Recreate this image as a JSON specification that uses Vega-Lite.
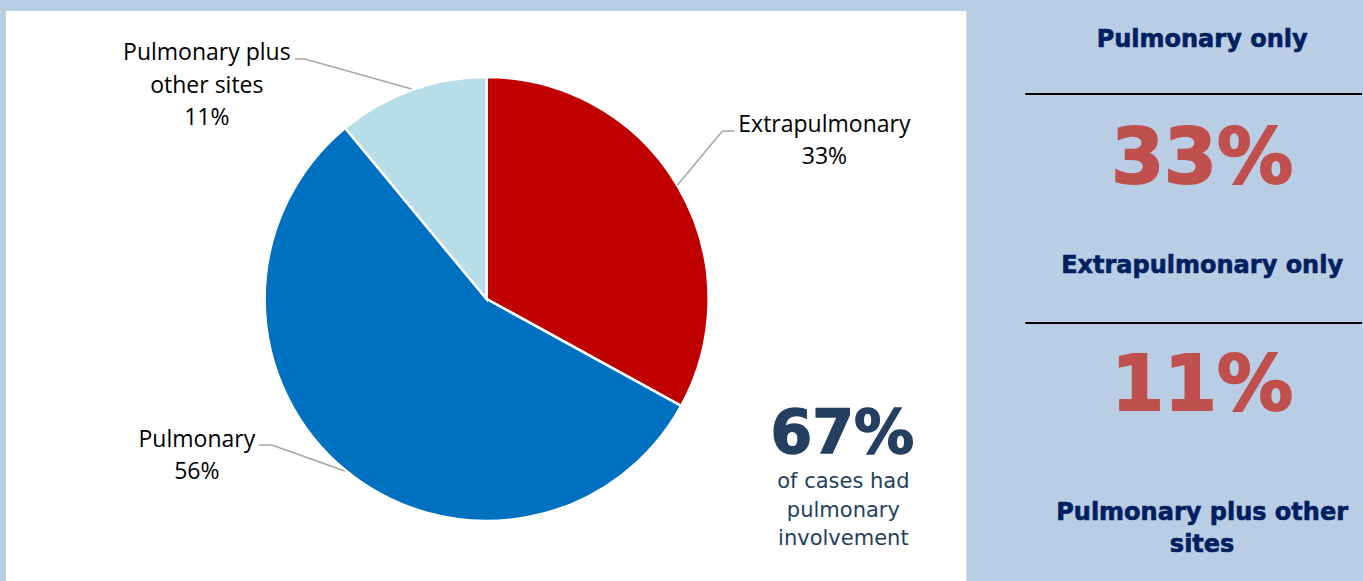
{
  "$schema": "https://vega.github.io/schema/vega-lite/v6.json",
  "width": 1363,
  "height": 581,
  "padding": 0,
  "autosize": {"type": "fit", "contains": "padding"},
  "background": "#b9cde5",
  "config": {"view": {"stroke": null}},
  "layer": [
    {
      "data": {"values": [{}]},
      "mark": {"type": "rect", "color": "#ffffff"},
      "encoding": {
        "x": {"datum": 6, "type": "quantitative", "scale": {"domain": [0, 1363], "nice": false, "zero": false}, "axis": null},
        "x2": {"datum": 967},
        "y": {"datum": 11, "type": "quantitative", "scale": {"domain": [0, 581], "reverse": true, "nice": false, "zero": false}, "axis": null},
        "y2": {"datum": 581}
      }
    },
    {
      "data": {"values": [
        {"site": "Extrapulmonary", "percent": 33},
        {"site": "Pulmonary", "percent": 56},
        {"site": "Pulmonary plus other sites", "percent": 11}
      ]},
      "mark": {"type": "arc", "radius": 222, "stroke": "#ffffff", "strokeWidth": 2.5},
      "encoding": {
        "theta": {"field": "percent", "type": "quantitative", "stack": true},
        "color": {"field": "site", "type": "nominal", "legend": null,
          "scale": {"domain": ["Extrapulmonary", "Pulmonary", "Pulmonary plus other sites"], "range": ["#c00000", "#0070c0", "#b7dde8"]}},
        "order": {"field": "site", "type": "nominal"},
        "x": {"datum": 487, "type": "quantitative", "scale": {"domain": [0, 1363], "nice": false, "zero": false}, "axis": null},
        "y": {"datum": 299, "type": "quantitative", "scale": {"domain": [0, 581], "reverse": true, "nice": false, "zero": false}, "axis": null}
      }
    },
    {
      "data": {"values": [
        {"seg": "a", "x": 678, "y": 185, "x2": 723, "y2": 131},
        {"seg": "b", "x": 723, "y": 131, "x2": 735, "y2": 131},
        {"seg": "c", "x": 295, "y": 59, "x2": 305, "y2": 59},
        {"seg": "d", "x": 305, "y": 59, "x2": 412, "y2": 89},
        {"seg": "e", "x": 259, "y": 445, "x2": 272, "y2": 445},
        {"seg": "f", "x": 272, "y": 445, "x2": 345, "y2": 471}
      ]},
      "mark": {"type": "rule", "color": "#a6a6a6", "strokeWidth": 1.5},
      "encoding": {
        "x": {"field": "x", "type": "quantitative", "scale": {"domain": [0, 1363], "nice": false, "zero": false}, "axis": null},
        "x2": {"field": "x2"},
        "y": {"field": "y", "type": "quantitative", "scale": {"domain": [0, 581], "reverse": true, "nice": false, "zero": false}, "axis": null},
        "y2": {"field": "y2"}
      }
    },
    {
      "data": {"values": [
        {"label": "Extrapulmonary", "lx": 825, "ly": 132},
        {"label": "33%", "lx": 825, "ly": 164},
        {"label": "Pulmonary plus", "lx": 207, "ly": 60},
        {"label": "other sites", "lx": 207, "ly": 93},
        {"label": "11%", "lx": 207, "ly": 125},
        {"label": "Pulmonary", "lx": 197, "ly": 447},
        {"label": "56%", "lx": 197, "ly": 479}
      ]},
      "mark": {"type": "text", "font": "Open Sans", "fontSize": 23, "color": "#000000", "align": "center", "baseline": "alphabetic"},
      "encoding": {
        "text": {"field": "label"},
        "x": {"field": "lx", "type": "quantitative", "scale": {"domain": [0, 1363], "nice": false, "zero": false}, "axis": null},
        "y": {"field": "ly", "type": "quantitative", "scale": {"domain": [0, 581], "reverse": true, "nice": false, "zero": false}, "axis": null}
      }
    },
    {
      "data": {"values": [{"label": "67%", "lx": 843, "ly": 453}]},
      "mark": {"type": "text", "font": "DejaVu Sans", "fontWeight": "bold", "fontSize": 60, "color": "#243f60", "stroke": "#243f60", "strokeWidth": 1.5, "align": "center", "baseline": "alphabetic"},
      "encoding": {
        "text": {"field": "label"},
        "x": {"field": "lx", "type": "quantitative", "scale": {"domain": [0, 1363], "nice": false, "zero": false}, "axis": null},
        "y": {"field": "ly", "type": "quantitative", "scale": {"domain": [0, 581], "reverse": true, "nice": false, "zero": false}, "axis": null}
      }
    },
    {
      "data": {"values": [
        {"label": "of cases had", "lx": 844, "ly": 488},
        {"label": "pulmonary", "lx": 844, "ly": 516.5},
        {"label": "involvement", "lx": 844, "ly": 545}
      ]},
      "mark": {"type": "text", "font": "DejaVu Sans", "fontSize": 21, "color": "#243f60", "align": "center", "baseline": "alphabetic"},
      "encoding": {
        "text": {"field": "label"},
        "x": {"field": "lx", "type": "quantitative", "scale": {"domain": [0, 1363], "nice": false, "zero": false}, "axis": null},
        "y": {"field": "ly", "type": "quantitative", "scale": {"domain": [0, 581], "reverse": true, "nice": false, "zero": false}, "axis": null}
      }
    },
    {
      "data": {"values": [
        {"label": "Pulmonary only", "lx": 1203, "ly": 47},
        {"label": "Extrapulmonary only", "lx": 1203, "ly": 273},
        {"label": "Pulmonary plus other", "lx": 1203, "ly": 520},
        {"label": "sites", "lx": 1203, "ly": 552}
      ]},
      "mark": {"type": "text", "font": "DejaVu Sans", "fontWeight": "bold", "fontSize": 24, "color": "#002060", "stroke": "#002060", "strokeWidth": 0.6, "align": "center", "baseline": "alphabetic"},
      "encoding": {
        "text": {"field": "label"},
        "x": {"field": "lx", "type": "quantitative", "scale": {"domain": [0, 1363], "nice": false, "zero": false}, "axis": null},
        "y": {"field": "ly", "type": "quantitative", "scale": {"domain": [0, 581], "reverse": true, "nice": false, "zero": false}, "axis": null}
      }
    },
    {
      "data": {"values": [
        {"label": "33%", "lx": 1203, "ly": 183},
        {"label": "11%", "lx": 1203, "ly": 410}
      ]},
      "mark": {"type": "text", "font": "DejaVu Sans", "fontWeight": "bold", "fontSize": 76, "color": "#c0504d", "stroke": "#c0504d", "strokeWidth": 2, "align": "center", "baseline": "alphabetic"},
      "encoding": {
        "text": {"field": "label"},
        "x": {"field": "lx", "type": "quantitative", "scale": {"domain": [0, 1363], "nice": false, "zero": false}, "axis": null},
        "y": {"field": "ly", "type": "quantitative", "scale": {"domain": [0, 581], "reverse": true, "nice": false, "zero": false}, "axis": null}
      }
    },
    {
      "data": {"values": [
        {"seg": "top", "x": 1026, "y": 94, "x2": 1363},
        {"seg": "bottom", "x": 1026, "y": 323, "x2": 1363}
      ]},
      "mark": {"type": "rule", "color": "#000000", "strokeWidth": 2},
      "encoding": {
        "x": {"field": "x", "type": "quantitative", "scale": {"domain": [0, 1363], "nice": false, "zero": false}, "axis": null},
        "x2": {"field": "x2"},
        "y": {"field": "y", "type": "quantitative", "scale": {"domain": [0, 581], "reverse": true, "nice": false, "zero": false}, "axis": null}
      }
    }
  ]
}
